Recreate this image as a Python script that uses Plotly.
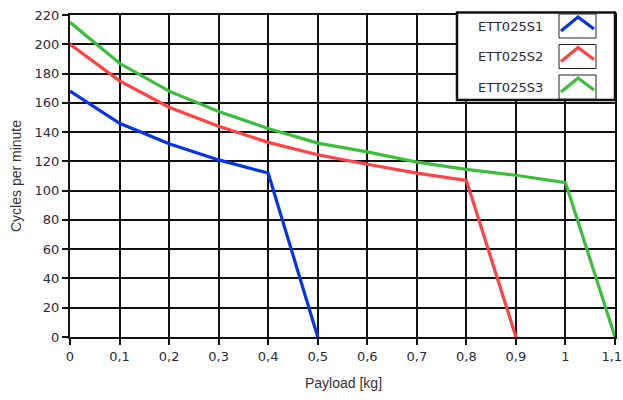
import plotly.graph_objects as go

# payload [kg] and cycles per minute for each drive size
payload_s1 = [0, 0.1, 0.2, 0.3, 0.4, 0.5]
cycles_s1 = [168, 146, 132, 121, 112, 0]

payload_s2 = [0, 0.1, 0.2, 0.3, 0.4, 0.5, 0.6, 0.7, 0.8, 0.9]
cycles_s2 = [200, 175, 157, 144, 133, 124.5, 118, 112, 107, 0]

payload_s3 = [0, 0.1, 0.2, 0.3, 0.4, 0.5, 0.6, 0.7, 0.8, 0.9, 1.0, 1.1]
cycles_s3 = [215, 187, 168, 154, 142.5, 132.5, 126.5, 119.5, 114.5, 110.5, 105.5, 0]

x_ticks = [0, 0.1, 0.2, 0.3, 0.4, 0.5, 0.6, 0.7, 0.8, 0.9, 1.0, 1.1]
# last label nudged left with an en space so it stays inside the window
x_tick_labels = ["0", "0,1", "0,2", "0,3", "0,4", "0,5", "0,6", "0,7", "0,8", "0,9", "1",
                 "1,1\u2002"]

names = ["ETT025S1", "ETT025S2", "ETT025S3"]
colors = ["#0535e6", "#ff4242", "#3cbe3c"]

fig = go.Figure()
series = [(payload_s1, cycles_s1), (payload_s2, cycles_s2), (payload_s3, cycles_s3)]
for (x, y), name, col in zip(series, names, colors):
    fig.add_trace(go.Scatter(x=x, y=y, mode="lines", name=name,
                             line=dict(color=col, width=3.2), showlegend=False))

axis_common = dict(
    showgrid=True, gridcolor="#111", gridwidth=1.5,
    showline=True, linecolor="#111", linewidth=2, mirror=True,
    ticks="outside", ticklen=6, tickcolor="#111", tickwidth=1.5,
    zeroline=False, automargin=False, ticklabeloverflow="allow",
    tickfont=dict(family="DejaVu Sans", size=13, color="#2a2a3a"),
)

fig.update_layout(
    width=623, height=400,
    margin=dict(l=70, r=8, t=15, b=63),
    paper_bgcolor="white", plot_bgcolor="white",
    xaxis=dict(range=[0, 1.1], tickvals=x_ticks, ticktext=x_tick_labels, **axis_common),
    yaxis=dict(range=[0, 220], dtick=20, tick0=0, **axis_common),
)


# helpers: pixel -> paper coordinates (plot area is 70..615 x 15..337)
def px(xp):
    return (xp - 70) / 545


def py(yp):
    return (337 - yp) / 322


title_font = dict(family="Liberation Sans", size=14, color="#333")
fig.add_annotation(text="Payload [kg]", xref="paper", yref="paper",
                   x=px(343), y=py(383), xanchor="center", yanchor="middle",
                   showarrow=False, font=title_font)
fig.add_annotation(text="Cycles per minute", xref="paper", yref="paper",
                   x=px(16), y=py(176), xanchor="center", yanchor="middle",
                   textangle=-90, showarrow=False, font=title_font)

# custom legend box (label left, line icon right)
fig.add_shape(type="rect", xref="paper", yref="paper",
              x0=px(457), x1=px(615), y0=py(100), y1=py(12.5),
              line=dict(color="#111", width=2.5), fillcolor="white", layer="above")

row_tops = [14, 44.5, 75]
for top, name, col in zip(row_tops, names, colors):
    fig.add_shape(type="rect", xref="paper", yref="paper",
                  x0=px(559), x1=px(596), y0=py(top + 24), y1=py(top),
                  line=dict(color="#222", width=1), fillcolor="white", layer="above")
    path = "M {} {} L {} {} L {} {}".format(px(561), py(top + 17), px(578), py(top + 3),
                                            px(594), py(top + 15))
    fig.add_shape(type="path", xref="paper", yref="paper", path=path,
                  line=dict(color=col, width=3.2), layer="above")
    fig.add_annotation(text=name, xref="paper", yref="paper",
                       x=px(510), y=py(top + 12), xanchor="center", yanchor="middle",
                       showarrow=False,
                       font=dict(family="DejaVu Sans", size=13, color="#2a2a3a"))

# drop the default page margin so the figure sits at the window's corner
fig.write_html("out.html",
               config={"displayModeBar": False},
               post_script="document.body.style.margin='0';"
                           "document.body.style.overflow='hidden';")
